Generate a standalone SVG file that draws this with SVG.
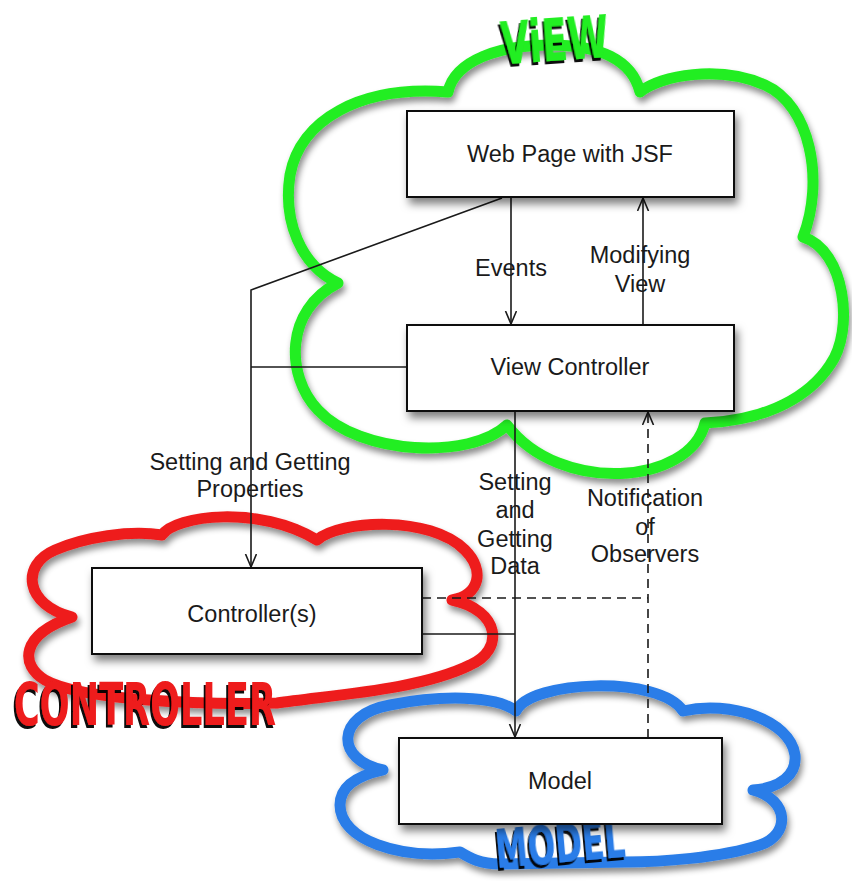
<svg xmlns="http://www.w3.org/2000/svg" width="852" height="881" viewBox="0 0 852 881">
<style>
.cloud{fill:none;stroke-width:11;stroke-linejoin:round;stroke-linecap:round;filter:url(#sh)}
.box{fill:#fff;stroke:#111;stroke-width:2;filter:url(#bsh)}
.t{font-family:"Liberation Sans",Arial,sans-serif;font-size:23.5px;fill:#1a1a1a;text-anchor:middle}
.ln{fill:none;stroke:#1a1a1a;stroke-width:1.6}
.dash{stroke-dasharray:9 6}
.big{font-family:"DejaVu Sans",sans-serif;font-weight:bold;font-size:58px;filter:url(#lsh)}
</style>
<defs>
<filter id="sh" x="-10%" y="-10%" width="120%" height="125%">
<feDropShadow dx="2" dy="5" stdDeviation="3" flood-color="#000" flood-opacity="0.45"/>
</filter>
<filter id="bsh" x="-10%" y="-10%" width="125%" height="135%">
<feDropShadow dx="3" dy="6" stdDeviation="4" flood-color="#000" flood-opacity="0.5"/>
</filter>
<filter id="lsh" x="-10%" y="-10%" width="120%" height="130%">
<feDropShadow dx="-2" dy="3" stdDeviation="0.6" flood-color="#000" flood-opacity="0.95"/>
</filter>
<marker id="ah" markerWidth="16" markerHeight="14" refX="13" refY="6" orient="auto" markerUnits="userSpaceOnUse">
<path d="M0,0.5 L13,6 L0,11.5" fill="none" stroke="#1a1a1a" stroke-width="1.6"/>
</marker>
</defs>

<g id="view-cloud">
<path class="cloud" stroke="#22ee22" d="M338,283 C300,265 283,220 290,175 C300,120 360,85 448,92 C455,60 500,45 550,45 C600,45 632,60 640,92 C660,75 720,65 765,85 C810,105 825,180 803,237 C845,250 855,330 830,365 C810,395 770,420 705,423 C690,485 560,495 507,425 C470,460 360,455 318,410 C285,375 285,310 338,283 Z"/>
<text class="big" x="501" y="61" textLength="108" lengthAdjust="spacingAndGlyphs" fill="#22ee22" transform="rotate(-4 550 45)">ViEW</text>
</g>

<g id="controller-cloud">
<path class="cloud" stroke="#ee1c1c" d="M72,617 C25,605 20,565 55,550 C85,537 130,530 162,535 C175,515 260,505 317,540 C340,520 430,515 465,550 C485,570 480,595 452,600 C500,610 505,650 470,665 C420,690 330,695 277,703 C200,705 80,700 45,680 C20,665 20,635 72,617 Z"/>
<text class="big" x="14" y="725" textLength="262" lengthAdjust="spacingAndGlyphs" fill="#ee1c1c">CONTROLLER</text>
</g>

<g id="model-cloud">
<path class="cloud" stroke="#2a7de8" d="M383,770 C335,760 335,715 390,705 C440,695 495,695 516,711 C530,680 660,675 683,711 C730,700 790,720 795,755 C797,775 780,788 753,790 C790,800 790,835 760,845 C720,858 660,862 625,862 L500,864 C480,864 470,858 460,852 C400,860 340,840 340,805 C340,785 360,775 383,770 Z"/>
<text class="big" x="497" y="868" textLength="130" lengthAdjust="spacingAndGlyphs" fill="#2a7de8" style="font-size:54px" transform="rotate(-5 497 868)">MODEL</text>
</g>

<g id="connectors">
<path class="ln" d="M511,197 V324" marker-end="url(#ah)"/>
<path class="ln" d="M643,325 V198" marker-end="url(#ah)"/>
<path class="ln" d="M502,198 L251,290 V567" marker-end="url(#ah)"/>
<path class="ln" d="M407,367 H251"/>
<path class="ln" d="M515,411 V737" marker-end="url(#ah)"/>
<path class="ln" d="M422,634 H515"/>
<path class="ln dash" d="M648,738 V412" marker-end="url(#ah)"/>
<path class="ln dash" d="M422,598 H648"/>
<text class="t" x="511" y="276">Events</text>
<text class="t" x="640" y="263">Modifying</text>
<text class="t" x="640" y="292">View</text>
<text class="t" x="250" y="470">Setting and Getting</text>
<text class="t" x="250" y="497">Properties</text>
<text class="t" x="515" y="490">Setting</text>
<text class="t" x="515" y="518">and</text>
<text class="t" x="515" y="547">Getting</text>
<text class="t" x="515" y="574">Data</text>
<text class="t" x="645" y="506">Notification</text>
<text class="t" x="645" y="535">of</text>
<text class="t" x="645" y="562">Observers</text>
</g>

<g id="web-page">
<rect class="box" x="407" y="111" width="327" height="86"/>
<text class="t" x="570" y="162">Web Page with JSF</text>
</g>
<g id="view-controller">
<rect class="box" x="407" y="325" width="327" height="86"/>
<text class="t" x="570" y="375">View Controller</text>
</g>
<g id="controllers">
<rect class="box" x="92" y="568" width="330" height="86"/>
<text class="t" x="252" y="622">Controller(s)</text>
</g>
<g id="model">
<rect class="box" x="399" y="738" width="323" height="86"/>
<text class="t" x="560" y="789">Model</text>
</g>
</svg>
